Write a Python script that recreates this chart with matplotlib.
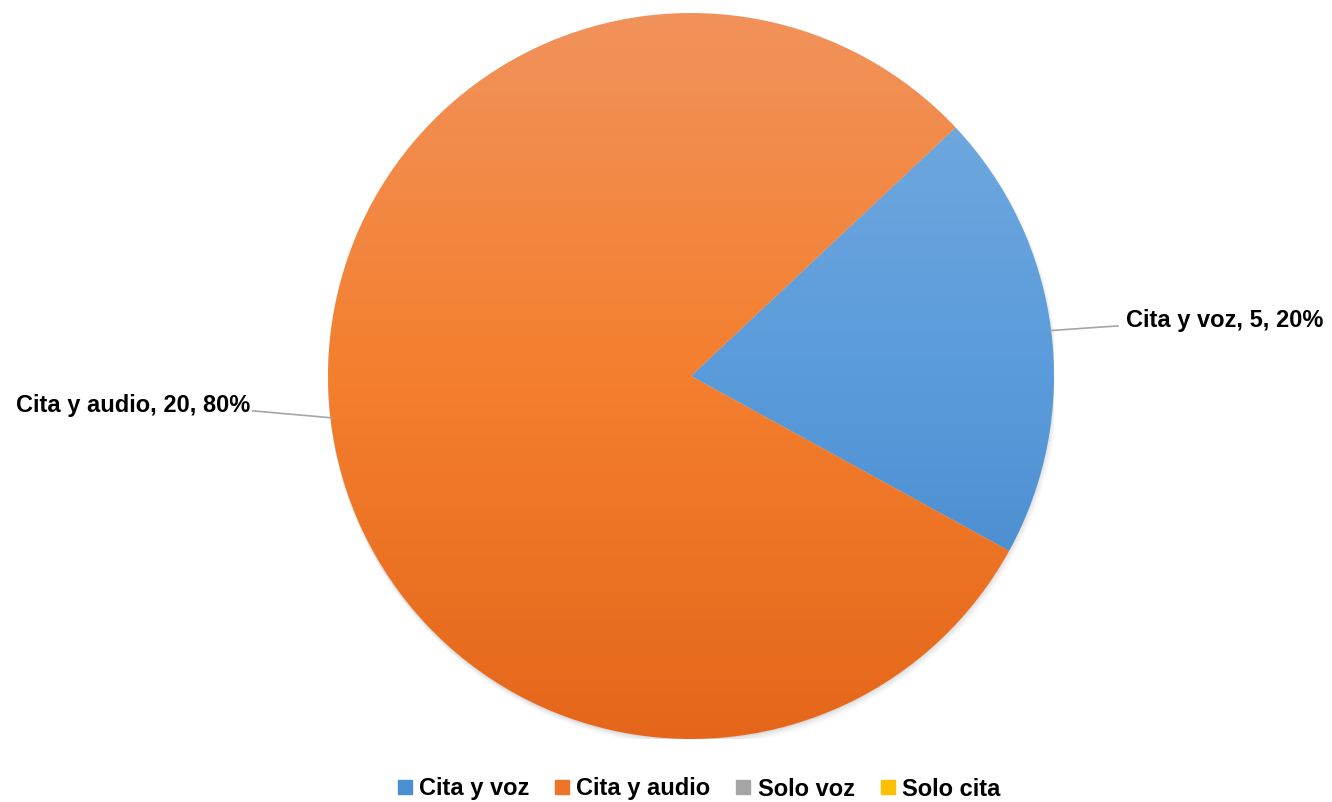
import numpy as np
import matplotlib.pyplot as plt
from matplotlib.colors import LinearSegmentedColormap
from matplotlib.lines import Line2D

plt.rcParams['font.family'] = ['Liberation Sans', 'DejaVu Sans']

categories = ["Cita y voz", "Cita y audio", "Solo voz", "Solo cita"]
values = [5, 20, 0, 0]
# bottom / middle / top gradient colours per category
grad_stops = [
    ["#3f84c6", "#5a9bdb", "#76acdf"],
    ["#e5661a", "#f47f2e", "#f1925b"],
    ["#8f8f8f", "#a5a5a5", "#b5b5b5"],
    ["#f2b800", "#ffc000", "#ffd54a"],
]
legend_colors = ["#4a90d0", "#ed7428", "#a5a5a5", "#ffc000"]

fig = plt.figure(figsize=(13.32, 8.02), dpi=100)
cx, cy, r = 691, 376, 363
ax = fig.add_axes([(cx - r) / 1332, (802 - cy - r) / 802, 2 * r / 1332, 2 * r / 802])

# soft shadow
for k, a in enumerate([0.05, 0.04, 0.03, 0.02]):
    sh = plt.Circle((0.002 * k, -0.004 - 0.003 * k), 1.0 + 0.002 * k, color="black",
                    alpha=a, lw=0, zorder=0)
    ax.add_patch(sh)

wedges, _ = ax.pie(values, startangle=43.2, counterclock=False, radius=1,
                   wedgeprops=dict(linewidth=0, edgecolor="none"))
ax.set_xlim(-1, 1)
ax.set_ylim(-1, 1)
ax.set_aspect("equal")
ax.axis("off")

total = sum(values)
for w, v, stops in zip(wedges, values, grad_stops):
    w.set_facecolor("none")
    if v == 0:
        continue
    cmap = LinearSegmentedColormap.from_list("g", stops)
    grad = np.linspace(0, 1, 256).reshape(-1, 1)
    im = ax.imshow(grad, cmap=cmap, extent=(-1, 1, -1, 1), origin="lower",
                   aspect="auto", zorder=1, interpolation="bilinear")
    im.set_clip_path(w)

# data labels with leader lines
lab_style = dict(fontsize=17, fontweight="bold", color="black")
for w, cat, v in zip(wedges, categories, values):
    if v == 0:
        continue
    mid = np.deg2rad((w.theta1 + w.theta2) / 2)
    px, py = np.cos(mid), np.sin(mid)
    text = f"{cat}, {v}, {round(100 * v / total)}%"
    if px > 0:
        ax.plot([px, 1.176], [py, 0.138], color="#a6a6a6", lw=1.2, clip_on=False)
        ax.text(1.198, 0.152, text, ha="left", va="center", **lab_style)
    else:
        ax.plot([px + 0.003, -1.207], [py + 0.01, -0.096], color="#a6a6a6", lw=1.2, clip_on=False)
        ax.text(-1.214, -0.08, text, ha="right", va="center", **lab_style)

handles = [Line2D([], [], marker="s", ls="", markersize=10, markerfacecolor=c,
                  markeredgecolor=c) for c in legend_colors]
fig.legend(handles, categories, loc="center", bbox_to_anchor=(0.522, 1 - 789 / 802),
           ncol=4, frameon=False, handletextpad=0.0, columnspacing=0.8,
           handlelength=1.2, prop=dict(size=17, weight="bold"))

fig.savefig("out.png", dpi=100)
